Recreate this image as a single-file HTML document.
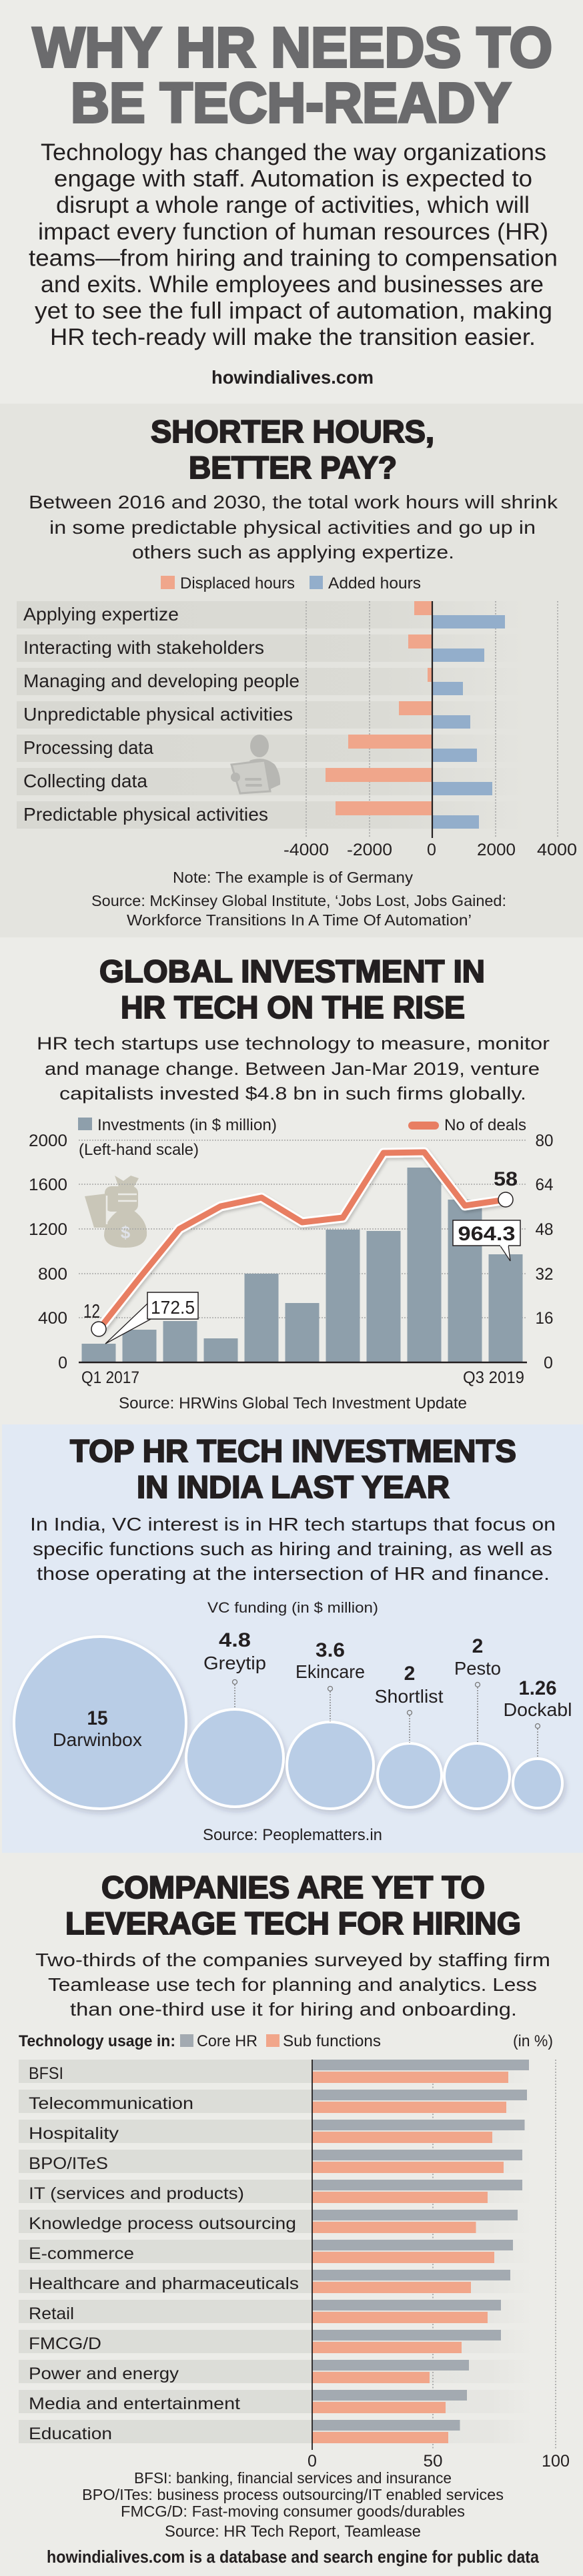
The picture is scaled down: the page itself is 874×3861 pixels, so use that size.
<!DOCTYPE html>
<html><head><meta charset="utf-8"><style>
html,body{margin:0;padding:0;background:#ecece8;}
svg{display:block;}
text{font-family:"Liberation Sans",sans-serif;fill:#231f20;}
.b{font-weight:bold;}
.tt{font-weight:bold;stroke:#231f20;stroke-width:2;}
.mt{font-weight:bold;fill:#6b6b6d;stroke:#6b6b6d;stroke-width:4;}
</style></head><body>
<svg width="874" height="3861" viewBox="0 0 874 3861" xmlns="http://www.w3.org/2000/svg">
<defs>
<linearGradient id="g1" x1="25" x2="790" y1="0" y2="0" gradientUnits="userSpaceOnUse">
<stop offset="0" stop-color="#d8d8d2"/><stop offset="0.72" stop-color="#dbdbd5"/><stop offset="1" stop-color="#e4e4df"/></linearGradient>
<linearGradient id="g5" x1="468" x2="800" y1="0" y2="0" gradientUnits="userSpaceOnUse">
<stop offset="0" stop-color="#e2e3df"/><stop offset="0.8" stop-color="#e6e6e2"/><stop offset="1" stop-color="#ecece8"/></linearGradient>
<filter id="sh" x="-20%" y="-20%" width="150%" height="150%"><feDropShadow dx="3" dy="5" stdDeviation="4" flood-color="#334" flood-opacity="0.18"/></filter>
<filter id="lsh" x="-10%" y="-10%" width="130%" height="130%"><feDropShadow dx="2" dy="3" stdDeviation="2" flood-color="#000" flood-opacity="0.18"/></filter>
</defs>

<!-- backgrounds -->
<rect x="0" y="0" width="874" height="605" fill="#ecece8"/>
<rect x="0" y="605" width="874" height="800" fill="#e4e4df"/>
<rect x="0" y="1405" width="874" height="730" fill="#ecece8"/>
<rect x="3" y="2135" width="871" height="642" fill="#e1e9f4"/>
<rect x="0" y="2777" width="874" height="1084" fill="#ecece8"/>

<!-- SECTION 1 -->
<text class="mt" x="49" y="100" font-size="84" textLength="779" lengthAdjust="spacingAndGlyphs">WHY HR NEEDS TO</text>
<text class="mt" x="106" y="183" font-size="84" textLength="660" lengthAdjust="spacingAndGlyphs">BE TECH-READY</text>
<g font-size="35">
<text x="61" y="240" textLength="758" lengthAdjust="spacingAndGlyphs">Technology has changed the way organizations</text>
<text x="81" y="279.6" textLength="717" lengthAdjust="spacingAndGlyphs">engage with staff. Automation is expected to</text>
<text x="84" y="319" textLength="710" lengthAdjust="spacingAndGlyphs">disrupt a whole range of activities, which will</text>
<text x="57" y="359" textLength="765" lengthAdjust="spacingAndGlyphs">impact every function of human resources (HR)</text>
<text x="43" y="398.4" textLength="793" lengthAdjust="spacingAndGlyphs">teams—from hiring and training to compensation</text>
<text x="61" y="438" textLength="754" lengthAdjust="spacingAndGlyphs">and exits. While employees and businesses are</text>
<text x="52" y="477.6" textLength="776" lengthAdjust="spacingAndGlyphs">yet to see the full impact of automation, making</text>
<text x="75" y="517" textLength="728" lengthAdjust="spacingAndGlyphs">HR tech-ready will make the transition easier.</text>
</g>
<text class="b" x="317" y="575" font-size="28" textLength="243" lengthAdjust="spacingAndGlyphs">howindialives.com</text>

<!-- SECTION 2 -->
<text class="tt" x="226" y="663" font-size="47" textLength="425" lengthAdjust="spacingAndGlyphs">SHORTER HOURS,</text>
<text class="tt" x="283" y="717" font-size="47" textLength="312" lengthAdjust="spacingAndGlyphs">BETTER PAY?</text>
<g font-size="28">
<text x="43" y="762" textLength="793" lengthAdjust="spacingAndGlyphs">Between 2016 and 2030, the total work hours will shrink</text>
<text x="74" y="800" textLength="729" lengthAdjust="spacingAndGlyphs">in some predictable physical activities and go up in</text>
<text x="198" y="837" textLength="483" lengthAdjust="spacingAndGlyphs">others such as applying expertize.</text>
</g>
<rect x="241" y="863" width="21" height="20" fill="#f0a68b"/>
<text x="270" y="882" font-size="24" textLength="172" lengthAdjust="spacingAndGlyphs">Displaced hours</text>
<rect x="464" y="863" width="20" height="20" fill="#93aecb"/>
<text x="492" y="882" font-size="24" textLength="139" lengthAdjust="spacingAndGlyphs">Added hours</text>

<!-- chart 1 bands -->
<g fill="url(#g1)">
<rect x="25" y="901" width="765" height="41"/>
<rect x="25" y="951" width="765" height="41"/>
<rect x="25" y="1001" width="765" height="41"/>
<rect x="25" y="1051" width="765" height="41"/>
<rect x="25" y="1101" width="765" height="41"/>
<rect x="25" y="1151" width="765" height="41"/>
<rect x="25" y="1201" width="765" height="41"/>
</g>
<!-- person watermark -->
<g fill="#b7b7b3">
<ellipse cx="389" cy="1118" rx="14" ry="17"/>
<path d="M374,1140 Q396,1132 412,1146 Q421,1160 420,1176 L398,1186 L380,1150 Z"/>
<polygon points="347,1146 397,1140 405,1186 360,1189" fill="#cdcdc8" stroke="#b7b7b3" stroke-width="3"/>
<circle cx="353" cy="1165" r="7"/>
<rect x="367" y="1166" width="25" height="4" rx="2"/>
<rect x="368" y="1175" width="25" height="4" rx="2"/>
</g>
<!-- grid -->
<g stroke="#a3a3a3" stroke-width="1.6" stroke-dasharray="2,2.5">
<line x1="459" y1="901" x2="459" y2="1256"/>
<line x1="554" y1="901" x2="554" y2="1256"/>
<line x1="743" y1="901" x2="743" y2="1256"/>
<line x1="836" y1="901" x2="836" y2="1256"/>
</g>
<!-- bars -->
<g fill="#f0a68b">
<rect x="621" y="901" width="27" height="21"/>
<rect x="612" y="951" width="36" height="21"/>
<rect x="641" y="1001" width="7" height="21"/>
<rect x="598" y="1051" width="50" height="21"/>
<rect x="522" y="1101" width="126" height="21"/>
<rect x="488" y="1151" width="160" height="21"/>
<rect x="503" y="1201" width="145" height="21"/>
</g>
<g fill="#93aecb">
<rect x="648" y="922" width="109" height="20"/>
<rect x="648" y="972" width="78" height="20"/>
<rect x="648" y="1022" width="46" height="20"/>
<rect x="648" y="1072" width="57" height="20"/>
<rect x="648" y="1122" width="67" height="20"/>
<rect x="648" y="1172" width="90" height="20"/>
<rect x="648" y="1222" width="70" height="20"/>
</g>
<line x1="648" y1="901" x2="648" y2="1256" stroke="#231f20" stroke-width="2.2"/>
<g font-size="28">
<text x="35" y="930" textLength="233" lengthAdjust="spacingAndGlyphs">Applying expertize</text>
<text x="35" y="980" textLength="361" lengthAdjust="spacingAndGlyphs">Interacting with stakeholders</text>
<text x="35" y="1030" textLength="414" lengthAdjust="spacingAndGlyphs">Managing and developing people</text>
<text x="35" y="1080" textLength="404" lengthAdjust="spacingAndGlyphs">Unpredictable physical activities</text>
<text x="35" y="1130" textLength="195" lengthAdjust="spacingAndGlyphs">Processing data</text>
<text x="35" y="1180" textLength="186" lengthAdjust="spacingAndGlyphs">Collecting data</text>
<text x="35" y="1230" textLength="367" lengthAdjust="spacingAndGlyphs">Predictable physical activities</text>
</g>
<g font-size="25" text-anchor="middle">
<text x="459" y="1282" textLength="68" lengthAdjust="spacingAndGlyphs">-4000</text>
<text x="554" y="1282" textLength="68" lengthAdjust="spacingAndGlyphs">-2000</text>
<text x="647" y="1282">0</text>
<text x="744" y="1282" textLength="58" lengthAdjust="spacingAndGlyphs">2000</text>
<text x="835" y="1282" textLength="60" lengthAdjust="spacingAndGlyphs">4000</text>
</g>
<text x="259" y="1323" font-size="23" textLength="360" lengthAdjust="spacingAndGlyphs">Note: The example is of Germany</text>
<text x="137" y="1358" font-size="23" textLength="622" lengthAdjust="spacingAndGlyphs">Source: McKinsey Global Institute, ‘Jobs Lost, Jobs Gained:</text>
<text x="190" y="1387" font-size="23" textLength="517" lengthAdjust="spacingAndGlyphs">Workforce Transitions In A Time Of Automation’</text>

<!-- SECTION 3 -->
<text class="tt" x="149" y="1472" font-size="47" textLength="578" lengthAdjust="spacingAndGlyphs">GLOBAL INVESTMENT IN</text>
<text class="tt" x="181" y="1526" font-size="47" textLength="516" lengthAdjust="spacingAndGlyphs">HR TECH ON THE RISE</text>
<g font-size="27">
<text x="55" y="1573" textLength="769" lengthAdjust="spacingAndGlyphs">HR tech startups use technology to measure, monitor</text>
<text x="67" y="1611" textLength="742" lengthAdjust="spacingAndGlyphs">and manage change. Between Jan-Mar 2019, venture</text>
<text x="89" y="1648" textLength="700" lengthAdjust="spacingAndGlyphs">capitalists invested $4.8 bn in such firms globally.</text>
</g>
<rect x="117" y="1675" width="21" height="19" fill="#8e9fab"/>
<text x="146" y="1694" font-size="24" textLength="269" lengthAdjust="spacingAndGlyphs">Investments (in $ million)</text>
<rect x="612" y="1681" width="46" height="12" rx="6" fill="#e87e62"/>
<text x="666" y="1694" font-size="24" textLength="123" lengthAdjust="spacingAndGlyphs">No of deals</text>
<text x="118" y="1731" font-size="24" textLength="180" lengthAdjust="spacingAndGlyphs">(Left-hand scale)</text>

<!-- money bag -->
<g fill="#c9c6b8">
<path d="M127,1793 L160,1789 L160,1840 L141,1840 Z"/>
<rect x="157" y="1778" width="50" height="38" rx="10"/>
<path d="M172,1762 L185,1770 L196,1762 L208,1766 L199,1782 L179,1782 Z"/>
<path d="M178,1814 L200,1814 Q222,1830 220,1852 Q216,1870 188,1870 Q158,1870 156,1852 Q156,1830 178,1814 Z"/>
</g>
<g stroke="#ecece8" stroke-width="2.5" fill="none">
<line x1="177" y1="1790" x2="205" y2="1790"/>
<line x1="177" y1="1800" x2="205" y2="1800"/>
<line x1="160" y1="1792" x2="160" y2="1835"/>
</g>
<text x="188" y="1856" font-size="26" text-anchor="middle" style="fill:#dfe2e8" class="b">$</text>

<!-- chart 2 grid -->
<g stroke="#a6a6a6" stroke-width="1.6" stroke-dasharray="2,2">
<line x1="118" y1="1709" x2="790" y2="1709"/>
<line x1="118" y1="1775" x2="790" y2="1775"/>
<line x1="118" y1="1842" x2="790" y2="1842"/>
<line x1="118" y1="1909" x2="790" y2="1909"/>
<line x1="118" y1="1975" x2="790" y2="1975"/>
</g>
<g fill="#8e9fab">
<rect x="122.5" y="2014" width="51" height="28"/>
<rect x="183.5" y="1993" width="51" height="49"/>
<rect x="244.5" y="1980" width="51" height="62"/>
<rect x="305.5" y="2006" width="51" height="36"/>
<rect x="366.5" y="1909" width="51" height="133"/>
<rect x="427.5" y="1953" width="51" height="89"/>
<rect x="488.5" y="1843" width="51" height="199"/>
<rect x="549.5" y="1845" width="51" height="197"/>
<rect x="610.5" y="1750" width="51" height="292"/>
<rect x="671.5" y="1798" width="51" height="244"/>
<rect x="732.5" y="1880" width="51" height="162"/>
</g>
<line x1="118" y1="2042" x2="790" y2="2042" stroke="#231f20" stroke-width="2.5"/>
<g fill="none" stroke-linejoin="round" stroke-linecap="round">
<polyline filter="url(#lsh)" stroke="#ffffff" stroke-width="15" points="148,1993 208,1917 269,1842 331,1808 392,1795 453,1832 514,1825 575,1728 636,1727 697,1807 758,1798"/>
<polyline stroke="#e87e62" stroke-width="9" points="148,1993 208,1917 269,1842 331,1808 392,1795 453,1832 514,1825 575,1728 636,1727 697,1807 758,1798"/>
</g>
<circle cx="148" cy="1992" r="11" fill="#fff" stroke="#231f20" stroke-width="1.5"/>
<circle cx="758" cy="1798" r="11" fill="#fff" stroke="#231f20" stroke-width="1.5"/>
<!-- callouts -->
<polygon points="222,1953 158,2014 228,1976" fill="#fff" stroke="#231f20" stroke-width="1.3"/>
<rect x="221" y="1937" width="76" height="40" fill="#fff" stroke="#231f20" stroke-width="1.5"/>
<text x="259" y="1969" font-size="28" text-anchor="middle" textLength="66" lengthAdjust="spacingAndGlyphs">172.5</text>
<polygon points="749,1866 765,1890 762,1866" fill="#fff" stroke="#231f20" stroke-width="1.3"/>
<rect x="679" y="1829" width="101" height="38" fill="#fff" stroke="#231f20" stroke-width="1.5"/>
<line x1="750" y1="1867" x2="762" y2="1867" stroke="#fff" stroke-width="2"/>
<text class="b" x="729.5" y="1859" font-size="30" text-anchor="middle" textLength="86" lengthAdjust="spacingAndGlyphs">964.3</text>
<text x="137.5" y="1975" font-size="29" text-anchor="middle" textLength="25" lengthAdjust="spacingAndGlyphs">12</text>
<text class="b" x="758" y="1777" font-size="30" text-anchor="middle" textLength="36" lengthAdjust="spacingAndGlyphs">58</text>
<!-- axis labels -->
<g font-size="25" text-anchor="end">
<text x="101" y="1718" textLength="58" lengthAdjust="spacingAndGlyphs">2000</text>
<text x="101" y="1784" textLength="58" lengthAdjust="spacingAndGlyphs">1600</text>
<text x="101" y="1851" textLength="58" lengthAdjust="spacingAndGlyphs">1200</text>
<text x="101" y="1918" textLength="44" lengthAdjust="spacingAndGlyphs">800</text>
<text x="101" y="1984" textLength="44" lengthAdjust="spacingAndGlyphs">400</text>
<text x="101" y="2051">0</text>
</g>
<g font-size="25" text-anchor="middle">
<text x="816" y="1718" textLength="27" lengthAdjust="spacingAndGlyphs">80</text>
<text x="816" y="1784" textLength="27" lengthAdjust="spacingAndGlyphs">64</text>
<text x="816" y="1851" textLength="27" lengthAdjust="spacingAndGlyphs">48</text>
<text x="816" y="1918" textLength="27" lengthAdjust="spacingAndGlyphs">32</text>
<text x="816" y="1984" textLength="27" lengthAdjust="spacingAndGlyphs">16</text>
<text x="822" y="2051">0</text>
</g>
<text x="122" y="2073" font-size="25" textLength="87" lengthAdjust="spacingAndGlyphs">Q1 2017</text>
<text x="694" y="2073" font-size="25" textLength="92" lengthAdjust="spacingAndGlyphs">Q3 2019</text>
<text x="178" y="2111" font-size="24" textLength="522" lengthAdjust="spacingAndGlyphs">Source: HRWins Global Tech Investment Update</text>

<!-- SECTION 4 -->
<text class="tt" x="105" y="2191" font-size="47" textLength="669" lengthAdjust="spacingAndGlyphs">TOP HR TECH INVESTMENTS</text>
<text class="tt" x="205" y="2245" font-size="47" textLength="469" lengthAdjust="spacingAndGlyphs">IN INDIA LAST YEAR</text>
<g font-size="28">
<text x="45" y="2294" textLength="788" lengthAdjust="spacingAndGlyphs">In India, VC interest is in HR tech startups that focus on</text>
<text x="49" y="2331" textLength="779" lengthAdjust="spacingAndGlyphs">specific functions such as hiring and training, as well as</text>
<text x="55" y="2368" textLength="769" lengthAdjust="spacingAndGlyphs">those operating at the intersection of HR and finance.</text>
</g>
<text x="311" y="2417" font-size="22" textLength="256" lengthAdjust="spacingAndGlyphs">VC funding (in $ million)</text>
<g fill="#b9cde6" stroke="#ffffff" stroke-width="4" filter="url(#sh)">
<circle cx="150" cy="2582" r="129"/>
<circle cx="352" cy="2635" r="73"/>
<circle cx="495" cy="2646" r="65"/>
<circle cx="614" cy="2661" r="48"/>
<circle cx="715" cy="2662" r="49"/>
<circle cx="806" cy="2673" r="37"/>
</g>
<g stroke="#777" stroke-width="1.3" stroke-dasharray="2,2">
<line x1="352" y1="2525" x2="352" y2="2561"/>
<line x1="495" y1="2535" x2="495" y2="2580"/>
<line x1="614" y1="2571" x2="614" y2="2612"/>
<line x1="716" y1="2529" x2="716" y2="2612"/>
<line x1="806" y1="2591" x2="806" y2="2635"/>
</g>
<g fill="#e1e9f4" stroke="#777" stroke-width="1.3">
<circle cx="352" cy="2521" r="3.5"/>
<circle cx="495" cy="2531" r="3.5"/>
<circle cx="614" cy="2567" r="3.5"/>
<circle cx="716" cy="2525" r="3.5"/>
<circle cx="806" cy="2587" r="3.5"/>
</g>
<g text-anchor="middle">
<text class="b" x="146" y="2585" font-size="30" textLength="31" lengthAdjust="spacingAndGlyphs">15</text>
<text x="146" y="2617" font-size="28" textLength="134" lengthAdjust="spacingAndGlyphs">Darwinbox</text>
<text class="b" x="352" y="2468" font-size="30" textLength="48" lengthAdjust="spacingAndGlyphs">4.8</text>
<text x="352" y="2502" font-size="28" textLength="94" lengthAdjust="spacingAndGlyphs">Greytip</text>
<text class="b" x="495" y="2483" font-size="30" textLength="44" lengthAdjust="spacingAndGlyphs">3.6</text>
<text x="495" y="2515" font-size="28" textLength="104" lengthAdjust="spacingAndGlyphs">Ekincare</text>
<text class="b" x="614" y="2518" font-size="30">2</text>
<text x="613" y="2552" font-size="28" textLength="103" lengthAdjust="spacingAndGlyphs">Shortlist</text>
<text class="b" x="716" y="2477" font-size="30">2</text>
<text x="716" y="2510" font-size="28" textLength="70" lengthAdjust="spacingAndGlyphs">Pesto</text>
<text class="b" x="806" y="2540" font-size="30" textLength="57" lengthAdjust="spacingAndGlyphs">1.26</text>
<text x="806" y="2572" font-size="28" textLength="103" lengthAdjust="spacingAndGlyphs">Dockabl</text>
</g>
<text x="304" y="2758" font-size="24" textLength="269" lengthAdjust="spacingAndGlyphs">Source: Peoplematters.in</text>

<!-- SECTION 5 -->
<text class="tt" x="152" y="2845" font-size="47" textLength="575" lengthAdjust="spacingAndGlyphs">COMPANIES ARE YET TO</text>
<text class="tt" x="98" y="2899" font-size="47" textLength="683" lengthAdjust="spacingAndGlyphs">LEVERAGE TECH FOR HIRING</text>
<g font-size="28">
<text x="53" y="2947" textLength="772" lengthAdjust="spacingAndGlyphs">Two-thirds of the companies surveyed by staffing firm</text>
<text x="72" y="2984" textLength="733" lengthAdjust="spacingAndGlyphs">Teamlease use tech for planning and analytics. Less</text>
<text x="105" y="3021" textLength="670" lengthAdjust="spacingAndGlyphs">than one-third use it for hiring and onboarding.</text>
</g>
<text class="b" x="28" y="3067" font-size="24" textLength="235" lengthAdjust="spacingAndGlyphs">Technology usage in:</text>
<rect x="270" y="3049" width="20" height="19" fill="#a3aab1"/>
<text x="295" y="3067" font-size="24" textLength="91" lengthAdjust="spacingAndGlyphs">Core HR</text>
<rect x="399" y="3049" width="20" height="19" fill="#f1a68a"/>
<text x="424" y="3067" font-size="24" textLength="147" lengthAdjust="spacingAndGlyphs">Sub functions</text>
<text x="769" y="3067" font-size="24" textLength="60" lengthAdjust="spacingAndGlyphs">(in %)</text>

<!-- chart 5 bands -->
<g fill="#dcddd8">
<rect x="28" y="3087" width="440" height="35"/><rect x="28" y="3132" width="440" height="35"/>
<rect x="28" y="3177" width="440" height="35"/><rect x="28" y="3222" width="440" height="35"/>
<rect x="28" y="3267" width="440" height="35"/><rect x="28" y="3312" width="440" height="35"/>
<rect x="28" y="3357" width="440" height="35"/><rect x="28" y="3402" width="440" height="35"/>
<rect x="28" y="3447" width="440" height="35"/><rect x="28" y="3492" width="440" height="35"/>
<rect x="28" y="3537" width="440" height="35"/><rect x="28" y="3582" width="440" height="35"/>
<rect x="28" y="3627" width="440" height="35"/>
</g>
<g fill="url(#g5)">
<rect x="468" y="3087" width="332" height="35"/><rect x="468" y="3132" width="332" height="35"/>
<rect x="468" y="3177" width="332" height="35"/><rect x="468" y="3222" width="332" height="35"/>
<rect x="468" y="3267" width="332" height="35"/><rect x="468" y="3312" width="332" height="35"/>
<rect x="468" y="3357" width="332" height="35"/><rect x="468" y="3402" width="332" height="35"/>
<rect x="468" y="3447" width="332" height="35"/><rect x="468" y="3492" width="332" height="35"/>
<rect x="468" y="3537" width="332" height="35"/><rect x="468" y="3582" width="332" height="35"/>
<rect x="468" y="3627" width="332" height="35"/>
</g>
<g stroke="#a0a0a0" stroke-width="1.6" stroke-dasharray="2,2.5">
<line x1="649" y1="3087" x2="649" y2="3672"/>
<line x1="833" y1="3087" x2="833" y2="3672"/>
</g>
<g fill="#a3aab1">
<rect x="468" y="3087" width="325" height="16"/>
<rect x="468" y="3132" width="322" height="16"/>
<rect x="468" y="3177" width="318.5" height="16"/>
<rect x="468" y="3222" width="315" height="16"/>
<rect x="468" y="3267" width="315" height="16"/>
<rect x="468" y="3312" width="308" height="16"/>
<rect x="468" y="3357" width="301" height="16"/>
<rect x="468" y="3402" width="297" height="16"/>
<rect x="468" y="3447" width="283" height="16"/>
<rect x="468" y="3492" width="283" height="16"/>
<rect x="468" y="3537" width="235" height="16"/>
<rect x="468" y="3582" width="232" height="16"/>
<rect x="468" y="3627" width="221.5" height="16"/>
</g>
<g fill="#f1a68a">
<rect x="468" y="3105" width="294" height="17"/>
<rect x="468" y="3150" width="291" height="17"/>
<rect x="468" y="3195" width="270" height="17"/>
<rect x="468" y="3240" width="287" height="17"/>
<rect x="468" y="3285" width="263" height="17"/>
<rect x="468" y="3330" width="245.5" height="17"/>
<rect x="468" y="3375" width="273" height="17"/>
<rect x="468" y="3420" width="238" height="17"/>
<rect x="468" y="3465" width="263" height="17"/>
<rect x="468" y="3510" width="224" height="17"/>
<rect x="468" y="3555" width="176" height="17"/>
<rect x="468" y="3600" width="200" height="17"/>
<rect x="468" y="3645" width="204" height="17"/>
</g>
<line x1="468" y1="3087" x2="468" y2="3672" stroke="#231f20" stroke-width="1.8"/>
<g font-size="25">
<text x="43" y="3116" textLength="52" lengthAdjust="spacingAndGlyphs">BFSI</text>
<text x="43" y="3161" textLength="247" lengthAdjust="spacingAndGlyphs">Telecommunication</text>
<text x="43" y="3206" textLength="135" lengthAdjust="spacingAndGlyphs">Hospitality</text>
<text x="43" y="3251" textLength="119" lengthAdjust="spacingAndGlyphs">BPO/ITeS</text>
<text x="43" y="3296" textLength="323" lengthAdjust="spacingAndGlyphs">IT (services and products)</text>
<text x="43" y="3341" textLength="401" lengthAdjust="spacingAndGlyphs">Knowledge process outsourcing</text>
<text x="43" y="3386" textLength="158" lengthAdjust="spacingAndGlyphs">E-commerce</text>
<text x="43" y="3431" textLength="405" lengthAdjust="spacingAndGlyphs">Healthcare and pharmaceuticals</text>
<text x="43" y="3476" textLength="68" lengthAdjust="spacingAndGlyphs">Retail</text>
<text x="43" y="3521" textLength="109" lengthAdjust="spacingAndGlyphs">FMCG/D</text>
<text x="43" y="3566" textLength="225" lengthAdjust="spacingAndGlyphs">Power and energy</text>
<text x="43" y="3611" textLength="317" lengthAdjust="spacingAndGlyphs">Media and entertainment</text>
<text x="43" y="3656" textLength="125" lengthAdjust="spacingAndGlyphs">Education</text>
</g>
<g font-size="25" text-anchor="middle">
<text x="468" y="3697">0</text>
<text x="649" y="3697" textLength="29" lengthAdjust="spacingAndGlyphs">50</text>
<text x="833" y="3697" textLength="42" lengthAdjust="spacingAndGlyphs">100</text>
</g>
<text x="201" y="3722" font-size="23" textLength="476" lengthAdjust="spacingAndGlyphs">BFSI: banking, financial services and insurance</text>
<text x="123" y="3747" font-size="23" textLength="632" lengthAdjust="spacingAndGlyphs">BPO/ITes: business process outsourcing/IT enabled services</text>
<text x="181" y="3772" font-size="23" textLength="516" lengthAdjust="spacingAndGlyphs">FMCG/D: Fast-moving consumer goods/durables</text>
<text x="247" y="3802" font-size="24" textLength="384" lengthAdjust="spacingAndGlyphs">Source: HR Tech Report, Teamlease</text>
<text class="b" x="70" y="3841" font-size="26" textLength="738" lengthAdjust="spacingAndGlyphs">howindialives.com is a database and search engine for public data</text>
</svg>
</body></html>
